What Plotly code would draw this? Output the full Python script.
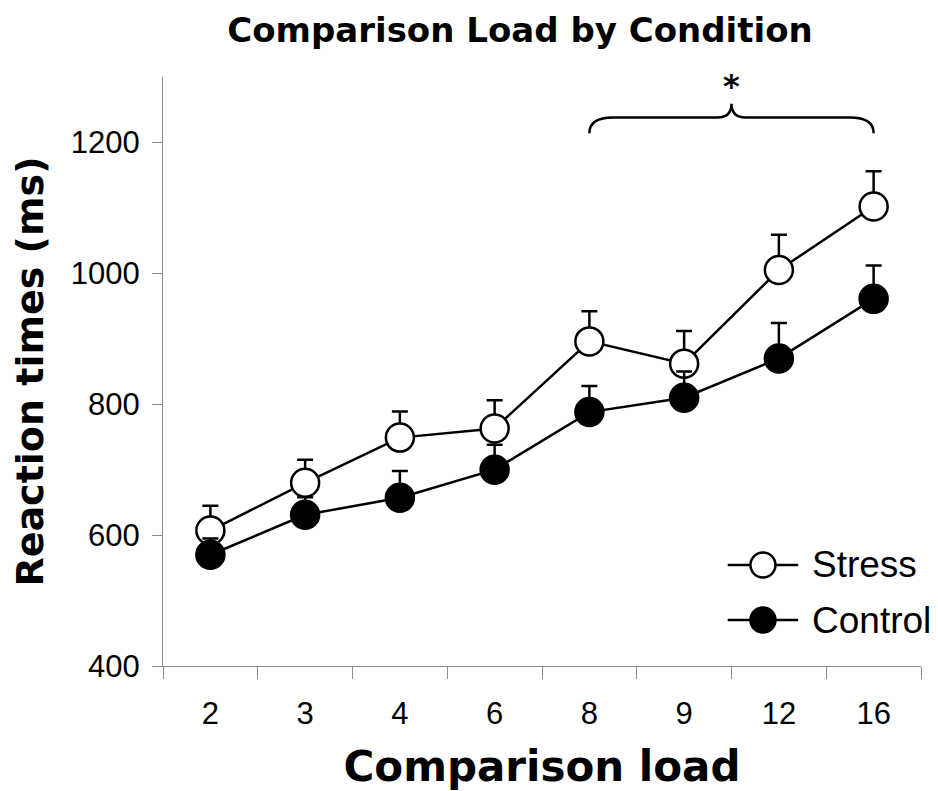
import plotly.graph_objects as go

categories = ["2", "3", "4", "6", "8", "9", "12", "16"]
stress = [607, 680, 749, 763, 896, 862, 1005, 1102]
stress_err = [38, 35, 40, 43, 46, 50, 54, 54]
control = [570, 631, 657, 700, 788, 810, 870, 961]
control_err = [25, 27, 41, 38, 40, 40, 54, 51]
y_ticks = [400, 600, 800, 1000, 1200]
brace_from = "8"
brace_to = "16"
brace_label = "*"

x_idx = list(range(len(categories)))
FONT = "Liberation Sans, Arial, sans-serif"
BOLD = "DejaVu Sans, sans-serif"
AXC = "#8c8c8c"

fig = go.Figure()

def add_series(name, vals, errs, fill):
    fig.add_trace(go.Scatter(
        x=x_idx, y=vals, name=name, mode="lines+markers",
        line=dict(color="black", width=2.5),
        marker=dict(size=28, color=fill, line=dict(color="black", width=2.5)),
        error_y=dict(type="data", symmetric=False, array=errs,
                     arrayminus=[0] * len(errs), color="black",
                     thickness=2.5, width=8),
        showlegend=False,
    ))

add_series("Stress", stress, stress_err, "white")
add_series("Control", control, control_err, "black")

# significance brace between brace_from and brace_to
i0 = categories.index(brace_from)
i1 = categories.index(brace_to)
mid = (i0 + i1) / 2
yb, yh, yp = 1214, 1238, 1259
path = (f"M {i0},{yb} Q {i0},{yh} {i0+0.25},{yh} L {mid-0.15},{yh} "
        f"Q {mid},{yh} {mid},{yp} Q {mid},{yh} {mid+0.15},{yh} "
        f"L {i1-0.25},{yh} Q {i1},{yh} {i1},{yb}")
fig.add_shape(type="path", path=path, xref="x", yref="y",
              line=dict(color="black", width=2.5))
fig.add_annotation(x=mid, y=1287, xref="x", yref="y", text=brace_label,
                   showarrow=False, font=dict(family=BOLD, size=32, color="black", weight="bold"),
                   yanchor="middle")

# legend (drawn manually to match large symbols)
legend_items = [("Stress", "white", 0.1715), ("Control", "black", 0.078)]
for name, fill, ly in legend_items:
    fig.add_shape(type="line", xref="paper", yref="paper", x0=0.745, x1=0.838,
                  y0=ly, y1=ly, line=dict(color="black", width=2.5))
    fig.add_shape(type="circle", xref="paper", yref="paper",
                  xsizemode="pixel", ysizemode="pixel",
                  xanchor=0.7915, yanchor=ly, x0=-12.5, x1=12.5, y0=-12.5, y1=12.5,
                  line=dict(color="black", width=2.5), fillcolor=fill)
    fig.add_annotation(x=0.853, y=ly, xref="paper", yref="paper", text=name,
                       showarrow=False, xanchor="left", yanchor="middle",
                       font=dict(family=FONT, size=37, color="black"))

fig.update_layout(
    width=930, height=783,
    margin=dict(l=155, r=17, t=69, b=125),
    plot_bgcolor="white", paper_bgcolor="white",
    font=dict(family=FONT, color="black"),
    title=dict(text="Comparison Load by Condition", x=0.5505, xanchor="center",
               y=0.972, yanchor="middle", yref="container",
               font=dict(family=BOLD, size=34, color="black", weight="bold")),
)
fig.update_xaxes(
    range=[-0.5, len(categories) - 0.5], tickmode="array", tickvals=x_idx,
    ticktext=categories, ticks="", showgrid=False, zeroline=False,
    showline=True, linecolor=AXC, linewidth=1.3, automargin=False,
    tickfont=dict(family=FONT, size=31, color="black"),
    ticklabelstandoff=20,
    minor=dict(tickmode="array", tickvals=[i - 0.5 for i in range(len(categories) + 1)],
               ticks="outside", ticklen=12, tickcolor=AXC, tickwidth=1.3, showgrid=False),
    title=dict(text="Comparison load", standoff=31,
               font=dict(family=BOLD, size=42, color="black", weight="bold")),
)
fig.update_yaxes(
    range=[400, 1300], tickmode="array", tickvals=y_ticks,
    ticks="outside", ticklen=10, tickcolor=AXC, tickwidth=1.3,
    showgrid=False, zeroline=False, showline=True, linecolor=AXC, linewidth=1.3,
    automargin=False,
    tickfont=dict(family=FONT, size=31, color="black"),
    ticklabelstandoff=6,
    title=dict(text="Reaction times (ms)", standoff=16,
               font=dict(family=BOLD, size=38, color="black", weight="bold")),
)

fig.write_html("out.html")
